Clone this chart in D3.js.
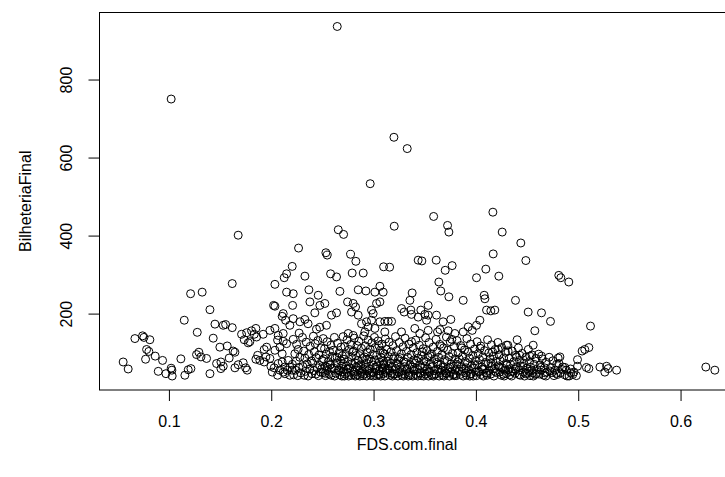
<!DOCTYPE html>
<html><head><meta charset="utf-8">
<script src="https://cdn.jsdelivr.net/npm/d3@7"></script>
<style>body{margin:0;background:#fff}svg{display:block}</style>
</head><body>
<svg id="chart" width="725" height="477"></svg>
<script>
const xTicks = [0.1, 0.2, 0.3, 0.4, 0.5, 0.6];
const yTicks = [200, 400, 600, 800];
const xLabel = "FDS.com.final";
const yLabel = "BilheteriaFinal";

// high values
const upperFds = [0.2645,0.1022,0.3199,0.2967,0.3202,0.1677,0.2655,0.2707,0.2267,0.2534,
0.2547,0.2775,0.2827,0.2205,0.3098,0.3157,0.3329,0.3587,0.4166,0.3723,
0.3736,0.4257,0.4439,0.4169,0.3436,0.3472,0.3612,0.4488,0.3768,0.3700,
0.4097,0.1212,0.1619,0.1325,0.2150,0.2127,0.2036,0.2150,0.2215,0.2580,
0.2638,0.2329,0.2791,0.2899,0.2368,0.2671,0.2850,0.2925,0.3013,0.3062,
0.3094,0.4006,0.3638,0.3657,0.3377,0.4224,0.4810,0.4830,0.4908];
const upperBil = [936,750,652,533,424,401,415,403,368,356,
350,352,334,321,320,319,623,449,460,426,
409,409,381,353,337,335,337,336,323,311,
314,251,277,255,302,292,275,255,251,302,
294,296,304,304,261,257,261,258,255,270,
255,292,281,258,253,296,298,292,281];

// middle values
const midFds = [0.1150,0.1277,0.0668,0.0743,0.0756,0.0814,0.1401,0.1450,0.1531,0.1554,
0.1619,0.1710,0.1760,0.1850,0.1834,0.1921,0.1808,0.2023,0.2036,0.2117,
0.2107,0.2209,0.2140,0.2182,0.2215,0.2459,0.2524,0.2475,0.2746,0.2801,
0.2824,0.2785,0.2378,0.2426,0.2638,0.2589,0.2540,0.2475,0.2442,0.2280,
0.2329,0.2360,0.2273,0.2850,0.2882,0.2931,0.2980,0.2947,0.2915,0.2980,
0.2996,0.3029,0.3062,0.3110,0.3143,0.3176,0.3062,0.3013,0.3110,0.2752,
0.2801,0.3736,0.3355,0.3876,0.4081,0.4088,0.3534,0.3273,0.3299,0.3364,
0.3371,0.3462,0.3501,0.3436,0.3534,0.3518,0.3615,0.3680,0.3755,0.4104,
0.4146,0.4039,0.4006,0.3925,0.3876,0.3964,0.3273,0.3403,0.3452,0.3534,
0.3625,0.3648,0.3730,0.3794,0.4387,0.4185,0.4511,0.4641,0.4729,0.4576,
0.5120];
const midBil = [183,152,136,143,139,133,210,173,170,172,
164,147,151,162,147,147,156,221,219,200,
193,221,183,170,187,247,226,221,230,226,
217,204,230,202,202,196,170,165,160,179,
185,174,150,196,174,179,183,166,153,209,
200,226,230,180,180,180,179,162,153,149,
144,243,234,234,247,238,221,213,204,209,
198,209,198,191,196,183,196,179,185,209,
207,183,170,166,153,157,153,162,149,157,
153,159,156,149,234,209,204,202,180,156,
168];

// low values, left part
const lowLeftFds = [0.0782,0.0804,0.0866,0.0772,0.0938,0.0553,0.0602,0.0896,0.0971,0.1022,
0.1029,0.1032,0.1117,0.1156,0.1189,0.1215,0.1433,0.1498,0.1570,0.1645,
0.1736,0.1791,0.1857,0.1775,0.1293,0.1270,0.1313,0.1368,0.1401,0.1466,
0.1508,0.1508,0.1531,0.1589,0.1628,0.1645,0.1677,0.1726,0.1750,0.1765,
0.1867,0.1850,0.1889,0.1931,0.1955,0.1948,0.1987,0.1931,0.1997,0.2029,
0.2010,0.2068,0.2107,0.2133,0.2085,0.2117,0.2156,0.2062,0.2036,0.2085,
0.2107,0.1987,0.2036,0.2068,0.2117,0.2062,0.2117,0.2150,0.2166,0.2182,
0.2133,0.2182,0.2205];
const lowLeftBil = [108,103,91,83,80,76,58,52,46,60,
55,40,84,42,56,59,137,114,117,101,
133,128,140,125,101,95,89,85,46,72,
76,59,65,86,104,61,69,74,61,55,
93,83,80,108,114,89,85,76,65,61,
50,72,76,63,55,50,55,42,106,114,
97,157,162,144,149,132,129,123,80,63,
46,42,55];

// dense low band
const bandFds = [
0.2215,0.2248,0.2262,0.2231,0.2279,0.2244,0.2207,0.2270,0.2236,0.2288,0.2219,0.2259,
0.2305,0.2342,0.2381,0.2318,0.2366,0.2329,0.2392,0.2351,0.2310,0.2377,0.2336,0.2398,0.2322,0.2360,
0.2412,0.2455,0.2430,0.2487,0.2421,0.2468,0.2440,0.2496,0.2405,0.2474,0.2449,0.2418,0.2483,0.2437,0.2462,0.2493,
0.2508,0.2546,0.2583,0.2521,0.2569,0.2537,0.2594,0.2512,0.2558,0.2579,0.2529,0.2591,0.2543,0.2505,0.2567,0.2531,0.2586,0.2552,
0.2617,0.2648,0.2682,0.2606,0.2663,0.2695,0.2625,0.2677,0.2641,0.2688,0.2612,0.2656,0.2699,0.2633,0.2671,0.2620,0.2690,0.2644,
0.2703,0.2741,0.2778,0.2719,0.2762,0.2795,0.2728,0.2784,0.2711,0.2752,0.2789,0.2735,0.2770,0.2708,0.2798,0.2746,0.2723,0.2781,0.2757,0.2714,
0.2812,0.2856,0.2838,0.2881,0.2805,0.2869,0.2826,0.2893,0.2847,0.2818,0.2875,0.2831,0.2899,0.2862,0.2809,0.2884,0.2843,0.2821,0.2866,0.2895,
0.2904,0.2947,0.2983,0.2921,0.2966,0.2938,0.2992,0.2910,0.2955,0.2978,0.2929,0.2999,0.2917,0.2961,0.2942,0.2987,0.2906,0.2971,0.2934,0.2995,
0.3008,0.3044,0.3081,0.3017,0.3066,0.3092,0.3031,0.3074,0.3012,0.3056,0.3098,0.3039,0.3085,0.3023,0.3061,0.3003,0.3095,0.3048,0.3070,0.3027,0.3088,0.3052,
0.3115,0.3152,0.3189,0.3127,0.3171,0.3108,0.3145,0.3193,0.3134,0.3166,0.3102,0.3181,0.3139,0.3158,0.3119,0.3197,0.3162,0.3111,0.3185,0.3143,
0.3214,0.3251,0.3288,0.3226,0.3272,0.3205,0.3243,0.3296,0.3234,0.3265,0.3219,0.3281,0.3247,0.3209,0.3276,0.3238,0.3291,0.3258,
0.3308,0.3345,0.3389,0.3321,0.3367,0.3334,0.3392,0.3312,0.3356,0.3378,0.3327,0.3396,0.3349,0.3303,0.3362,0.3384,0.3339,0.3371,
0.3412,0.3447,0.3485,0.3423,0.3469,0.3438,0.3491,0.3405,0.3456,0.3478,0.3429,0.3497,0.3451,0.3417,0.3466,0.3489,0.3433,0.3474,
0.3508,0.3543,0.3582,0.3521,0.3566,0.3533,0.3594,0.3514,0.3557,0.3579,0.3528,0.3591,0.3548,0.3505,0.3569,0.3537,0.3586,0.3552,
0.3611,0.3648,0.3685,0.3624,0.3669,0.3637,0.3694,0.3616,0.3658,0.3681,0.3629,0.3698,0.3652,0.3607,0.3673,0.3641,0.3689,0.3663,
0.3712,0.3749,0.3787,0.3725,0.3771,0.3738,0.3796,0.3716,0.3759,0.3782,0.3731,0.3799,0.3754,0.3708,0.3776,0.3742,0.3791,0.3765,
0.3815,0.3852,0.3889,0.3826,0.3871,0.3838,0.3896,0.3812,0.3859,0.3883,0.3831,0.3899,0.3847,0.3808,0.3876,0.3864,
0.3912,0.3948,0.3986,0.3925,0.3969,0.3937,0.3994,0.3916,0.3958,0.3979,0.3929,0.3997,0.3953,0.3907,0.3974,0.3941,
0.4012,0.4047,0.4084,0.4023,0.4068,0.4036,0.4095,0.4015,0.4059,0.4081,0.4028,0.4098,0.4052,0.4006,0.4073,0.4041,
0.4114,0.4152,0.4188,0.4126,0.4171,0.4139,0.4195,0.4117,0.4158,0.4182,0.4131,0.4199,0.4146,0.4109,0.4176,0.4163,
0.4215,0.4253,0.4289,0.4227,0.4271,0.4238,0.4294,0.4219,0.4262,0.4283,0.4233,0.4297,0.4248,0.4276,
0.4312,0.4355,0.4388,0.4326,0.4371,0.4339,0.4394,0.4318,0.4362,0.4383,0.4331,0.4349,
0.4415,0.4452,0.4489,0.4426,0.4468,0.4437,0.4496,0.4419,0.4461,0.4484,0.4433,0.4475,
0.4512,0.4548,0.4586,0.4524,0.4569,0.4535,0.4594,0.4517,0.4557,0.4581,0.4529,0.4562,
0.4613,0.4649,0.4688,0.4627,0.4671,0.4638,0.4695,0.4619,0.4662,0.4684,
0.4716,0.4752,0.4789,0.4731,0.4774,0.4744,0.4797,0.4763,
0.4812,0.4848,0.4883,0.4826,0.4869,0.4891,
0.4925,0.4958,0.4947,0.4982,0.4911];
const bandBil = [
134,121,108,97,88,78,70,62,55,48,43,41,
139,127,116,104,95,86,79,71,64,58,52,46,42,40,
142,131,123,112,102,94,87,80,73,67,61,54,50,45,41,58,
136,128,119,110,103,96,90,84,77,70,65,59,54,49,45,41,42,62,
139,124,114,106,99,92,86,79,73,66,60,56,51,47,43,40,40,88,
141,133,121,116,108,101,95,88,83,77,72,66,61,57,53,49,45,42,40,40,
137,129,118,111,104,97,92,85,80,74,69,63,59,55,50,47,43,40,40,41,
143,132,125,117,109,101,95,89,84,78,73,68,62,58,53,49,45,42,40,40,
139,130,122,113,106,99,93,87,81,76,71,66,61,57,53,49,46,43,40,41,56,118,
135,127,118,108,102,96,90,84,78,73,68,63,58,53,49,45,42,40,40,66,
141,126,115,105,97,90,83,77,70,64,59,54,49,45,42,40,40,87,
137,122,112,103,95,88,81,75,69,63,58,53,49,45,42,40,40,128,
132,119,110,100,93,86,79,73,67,62,57,52,48,44,41,40,40,102,
138,126,114,105,97,89,83,76,70,64,59,54,49,45,42,40,40,92,
134,121,112,103,95,88,82,75,69,63,58,53,49,45,42,40,40,116,
140,128,116,106,98,90,84,77,71,65,60,55,50,46,43,40,41,134,
131,118,107,99,91,84,77,70,64,58,53,48,44,41,40,112,
136,122,109,101,93,86,79,72,66,60,55,50,46,42,40,40,
128,117,105,97,89,82,75,69,63,57,52,48,44,41,40,111,
133,120,108,99,91,84,77,71,65,59,54,49,45,42,40,102,
126,113,101,94,86,79,72,66,60,55,50,46,42,40,
119,104,93,85,77,70,63,57,52,47,43,40,
112,98,88,80,73,66,60,55,50,46,42,40,
108,94,85,77,70,63,57,52,48,44,41,40,
96,84,75,68,61,55,50,45,42,40,
88,79,70,62,55,49,44,41,
72,63,55,48,43,40,
58,50,44,41,40];

// extra low values inside the dense band
const extraFds = [0.2527,0.2574,0.2663,0.2702,0.2748,0.2806,0.2852,0.2889,0.2933,0.2969,
0.3021,0.3058,0.3096,0.3125,0.3177,0.3224,0.3263,0.3301,0.3343,0.3386,
0.3419,0.3458,0.3502,0.3546,0.3589,0.3627,0.3668,0.3705,0.3747,0.3788,
0.3822,0.3867,0.3905,0.3948,0.3989,0.4026,0.4066,0.4107,0.4148,0.4189,
0.4228,0.4269,0.4305,0.4342,0.4386,0.4421,0.4458,0.4503,0.4546,0.4591,
0.4635,0.4678,0.4722,0.4785,0.4839];
const extraBil = [47,68,53,71,58,44,66,52,82,47,
62,45,78,55,47,73,51,64,44,57,
79,47,66,52,44,71,55,48,63,45,
76,52,61,45,69,50,58,47,74,52,
63,45,69,51,58,44,65,47,55,46,
62,48,53,47,57];

// low values, right part
const rightFds = [0.4299,0.4560,0.4218,0.4315,0.5064,0.5104,0.5038,0.4397,0.4429,0.4527,
0.4641,0.4804,0.4821,0.4993,0.4869,0.4928,0.4993,0.5080,0.5104,0.4403,
0.5212,0.5277,0.5293,0.5260,0.5375,0.6247,0.6335];
const rightBil = [119,119,108,104,108,113,104,89,93,91,
91,86,89,82,62,48,65,62,59,133,
63,65,59,50,55,63,55];

const fds = [].concat(upperFds, midFds, lowLeftFds, bandFds, extraFds, rightFds);
const bil = [].concat(upperBil, midBil, lowLeftBil, bandBil, extraBil, rightBil);
if (fds.length !== bil.length) console.error("length mismatch", fds.length, bil.length);
const pts = fds.map((v, i) => ({ x: v, y: bil[i] }));

const FONT = '"Liberation Sans", Arial, Helvetica, sans-serif';
const svg = d3.select("#chart");
const plot = { left: 99.5, top: 12.5, right: 738.5, bottom: 390 };
const pad = e => { const r = e[1] - e[0]; return [e[0] - 0.04 * r, e[1] + 0.04 * r]; };
const x = d3.scaleLinear().domain(pad(d3.extent(fds))).range([plot.left, plot.right]);
const y = d3.scaleLinear().domain(pad(d3.extent(bil))).range([plot.bottom, plot.top]);

svg.append("g").selectAll("circle").data(pts).join("circle")
  .attr("cx", d => x(d.x)).attr("cy", d => y(d.y)).attr("r", 4)
  .attr("fill", "none").attr("stroke", "#000").attr("stroke-width", 1);

svg.append("rect").attr("x", plot.left).attr("y", plot.top)
  .attr("width", plot.right - plot.left).attr("height", plot.bottom - plot.top)
  .attr("fill", "none").attr("stroke", "#000").attr("stroke-width", 1);

const gx = svg.append("g").attr("transform", `translate(0,${plot.bottom})`)
  .call(d3.axisBottom(x).tickValues(xTicks).tickSize(11).tickPadding(15).tickFormat(d3.format(".1f")));
gx.select(".domain").remove();
gx.attr("font-size", 16).attr("font-family", FONT);
gx.selectAll("line").attr("stroke", "#000");
gx.selectAll("text").attr("fill", "#000");

const gy = svg.append("g").attr("transform", `translate(${plot.left},0)`)
  .call(d3.axisLeft(y).tickValues(yTicks).tickSize(11).tickFormat(d3.format("d")));
gy.select(".domain").remove();
gy.attr("font-size", 16).attr("font-family", FONT);
gy.selectAll("line").attr("stroke", "#000");
gy.selectAll("text").attr("fill", "#000").attr("transform", "rotate(-90)")
  .attr("x", 0).attr("y", -27.5).attr("dy", null).attr("text-anchor", "middle");

svg.append("text").attr("x", 407).attr("y", 450).attr("text-anchor", "middle")
  .attr("font-size", 16).attr("font-family", FONT).attr("fill", "#000").text(xLabel);
svg.append("text").attr("transform", `translate(31,${(plot.top + plot.bottom) / 2}) rotate(-90)`)
  .attr("text-anchor", "middle").attr("font-size", 16).attr("font-family", FONT)
  .attr("fill", "#000").text(yLabel);
</script>
</body></html>
